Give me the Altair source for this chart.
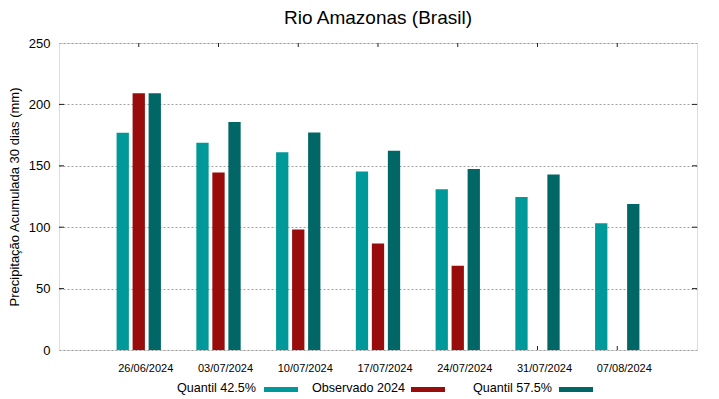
import altair as alt
import pandas as pd

dates = ["26/06/2024", "03/07/2024", "10/07/2024", "17/07/2024",
         "24/07/2024", "31/07/2024", "07/08/2024"]
series = ["Quantil 42.5%", "Observado 2024", "Quantil 57.5%"]
colors = ["#009999", "#990c0c", "#006666"]

q425 = [177.0, 168.7, 161.0, 145.3, 131.0, 124.5, 103.2]
obs = [209.0, 144.6, 98.2, 86.8, 68.6, None, None]
q575 = [209.0, 185.6, 177.2, 162.3, 147.3, 143.0, 118.8]

y_ticks = [0, 50, 100, 150, 200, 250]

rows = []
for name, vals in zip(series, [q425, obs, q575]):
    for d, v in zip(dates, vals):
        if v is not None:
            rows.append({"date": d, "serie": name, "valor": v})
df = pd.DataFrame(rows)

FONT = "Liberation Sans"
W, H = 638, 307

x_scale = alt.Scale(domain=dates, paddingInner=0, paddingOuter=0.5)
y_scale = alt.Scale(domain=[0, 250], nice=False)
x_axis = alt.Axis(labelAngle=0, labelFontSize=11, labelFont=FONT,
                  labelColor="black", ticks=False, domain=False,
                  labelPadding=12, labelOffset=7, grid=False)
y_axis = alt.Axis(values=y_ticks, labelFontSize=13, labelFont=FONT,
                  labelColor="black", ticks=False, domain=False,
                  labelPadding=9, titleFont=FONT, titleFontSize=13,
                  titleFontWeight="normal", titleColor="black",
                  titlePadding=7, grid=True, gridColor="#a0a0a0",
                  gridDash=[2, 2], gridWidth=1)
Y_TITLE = "Precipitação Acumulada 30 dias (mm)"

def x_enc():
    return alt.X("date:N", scale=x_scale, sort=dates, title=None, axis=x_axis)

def y_enc():
    return alt.Y("valor:Q", scale=y_scale, title=Y_TITLE, axis=y_axis)

bars = alt.Chart(df).mark_bar(width=12.3).encode(
    x=x_enc(),
    xOffset=alt.XOffset("serie:N", sort=series,
                        scale=alt.Scale(domain=series, paddingInner=0, paddingOuter=0.99)),
    y=y_enc(),
    color=alt.Color("serie:N", scale=alt.Scale(domain=series, range=colors), legend=None),
)

tick_df = pd.DataFrame({"date": dates})
bottom_ticks = alt.Chart(tick_df).mark_rule(color="#222", strokeWidth=1).encode(
    x=x_enc(), y=alt.value(H), y2=alt.value(H - 4),
)
top_ticks = alt.Chart(tick_df).mark_rule(color="#222", strokeWidth=1).encode(
    x=x_enc(), y=alt.value(0), y2=alt.value(4),
)
ytick_df = pd.DataFrame({"valor": y_ticks[1:-1]})
left_ticks = alt.Chart(ytick_df).mark_rule(color="#222", strokeWidth=1).encode(
    y=y_enc(), x=alt.value(0), x2=alt.value(5),
)
right_ticks = alt.Chart(ytick_df).mark_rule(color="#222", strokeWidth=1).encode(
    y=y_enc(), x=alt.value(W - 5), x2=alt.value(W),
)

# custom gnuplot-style legend: label then swatch
leg_text_right = [197, 346, 493]
leg_sw_left = [205, 352, 500]
leg_layers = []
for name, col, tx, sx in zip(series, colors, leg_text_right, leg_sw_left):
    ldf = pd.DataFrame({"serie": [name]})
    leg_layers.append(
        alt.Chart(ldf).mark_text(align="right", baseline="alphabetic", font=FONT,
                                 fontSize=12.6, color="black").encode(
            text="serie:N", x=alt.value(tx), y=alt.value(H + 41.5))
    )
    leg_layers.append(
        alt.Chart(ldf).mark_rect(color=col).encode(
            x=alt.value(sx), x2=alt.value(sx + 34),
            y=alt.value(H + 37), y2=alt.value(H + 42))
    )

chart = alt.layer(bottom_ticks, bars, top_ticks, left_ticks, right_ticks, *leg_layers).properties(
    width=W, height=H,
    title=alt.TitleParams("Rio Amazonas (Brasil)", fontSize=19, font=FONT,
                          fontWeight="normal", color="black", anchor="middle",
                          offset=9, frame="group"),
    autosize=alt.AutoSizeParams(type="none"),
    padding={"left": 51, "top": 35, "right": 14, "bottom": 45},
).configure_view(stroke="#222", strokeWidth=1).configure(background="white")

chart.save("out.html", embed_options={"renderer": "svg", "actions": False})
